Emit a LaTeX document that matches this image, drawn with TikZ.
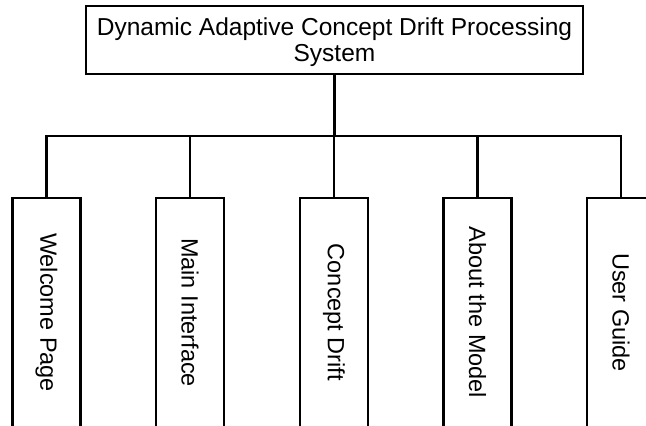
\documentclass[tikz,border=0pt]{standalone}
\usepackage{fontspec}
\setmainfont{Liberation Sans}
\begin{document}
\begin{tikzpicture}[x=1pt,y=1pt,
  line width=2.4pt,
  topbox/.style={draw, minimum width=497pt, minimum height=68pt, inner sep=0pt},
  toplabel/.style={align=center, inner sep=0pt, font=\fontsize{24.5}{26}\selectfont},
  leafbox/.style={draw, rotate=-90, minimum width=229pt, minimum height=68pt, inner sep=0pt, font=\fontsize{23.5}{26}\selectfont},
  link/.style={line width=2.4pt}]
\useasboundingbox (0,0) rectangle (646,-426);
\node[topbox] (root) at (334.5,-40) {};
\node[toplabel] (rootlabel) at (334.5,-42.5) {Dynamic Adaptive Concept Drift Processing\\System};
\coordinate (bus) at (0,-136);
\node[leafbox] (b1) at (46.5,-312.5) {Welcome Page};
\node[leafbox] (b2) at (190,-312.5) {Main Interface};
\node[leafbox] (b3) at (334,-312.5) {Concept Drift};
\node[leafbox] (b4) at (477.5,-312.5) {About the Model};
\node[leafbox] (b5) at (621,-312.5) {User Guide};
\draw[link] (root.south) -- (root.south |- bus);
\draw[link] (b1.west) -- (b1.west |- bus) -- (b5.west |- bus) -- (b5.west);
\draw[link] (b2.west) -- (b2.west |- bus);
\draw[link] (b3.west) -- (b3.west |- bus);
\draw[link] (b4.west) -- (b4.west |- bus);
\end{tikzpicture}
\end{document}
